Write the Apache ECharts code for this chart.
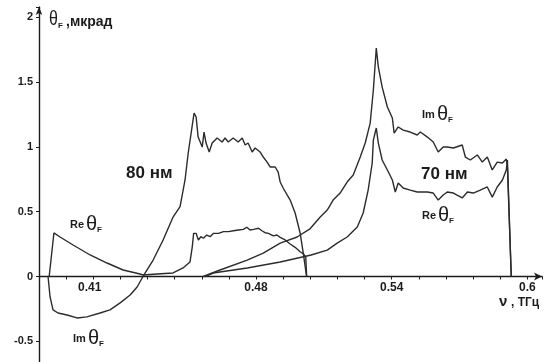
<!DOCTYPE html>
<html>
<head>
<meta charset="utf-8">
<script src="https://cdn.jsdelivr.net/npm/echarts@6/dist/echarts.min.js"></script>
<style>
  html, body { margin: 0; padding: 0; background: #fff; }
  #chart { width: 551px; height: 362px; }
</style>
</head>
<body>
<div id="chart"></div>
<script>
// Faraday rotation angle θF (мкрад) vs frequency ν (ТГц), films of 80 нм and 70 нм.
// Each series: [frequency, value] pairs.
const re80 = [
  [0.3885, 0], [0.3906, 0.336], [0.3933, 0.305], [0.3991, 0.243], [0.4066, 0.166],
  [0.4141, 0.104], [0.4212, 0.050], [0.4287, 0.019], [0.4300, 0.012], [0.4362, 0.019],
  [0.4433, 0.027], [0.4477, 0.066], [0.4508, 0.112], [0.4518, 0.228], [0.4524, 0.333],
  [0.4535, 0.333], [0.4545, 0.282], [0.4556, 0.307], [0.4567, 0.295], [0.4582, 0.320],
  [0.4597, 0.307], [0.4612, 0.333], [0.4634, 0.333], [0.4656, 0.346], [0.4678, 0.346],
  [0.4700, 0.353], [0.4722, 0.359], [0.4744, 0.364], [0.4759, 0.380], [0.4774, 0.359],
  [0.4789, 0.364], [0.4811, 0.372], [0.4826, 0.353], [0.4840, 0.338], [0.4855, 0.333],
  [0.4877, 0.313], [0.4892, 0.320], [0.4907, 0.302], [0.4929, 0.282], [0.4951, 0.251],
  [0.4973, 0.225], [0.4995, 0.191], [0.5010, 0.174], [0.5020, 0.150], [0.5024, 0]
];
const im80 = [
  [0.3880, 0], [0.3889, -0.158], [0.3902, -0.258], [0.3924, -0.282], [0.3964, -0.297],
  [0.4008, -0.320], [0.4052, -0.312], [0.4110, -0.282], [0.4154, -0.258], [0.4199, -0.204],
  [0.4243, -0.143], [0.4274, -0.081], [0.4300, 0], [0.4345, 0.127], [0.4389, 0.282],
  [0.4433, 0.459], [0.4464, 0.539], [0.4486, 0.745], [0.4500, 0.953], [0.4517, 1.154],
  [0.4526, 1.262], [0.4535, 1.231], [0.4544, 1.076], [0.4562, 0.999], [0.4570, 1.115],
  [0.4579, 1.030], [0.4593, 0.961], [0.4606, 1.030], [0.4628, 1.069], [0.4650, 1.038],
  [0.4663, 1.069], [0.4677, 1.038], [0.4699, 1.069], [0.4721, 1.038], [0.4739, 1.069],
  [0.4752, 1.015], [0.4765, 1.030], [0.4783, 0.961], [0.4796, 0.992], [0.4818, 0.961],
  [0.4832, 0.922], [0.4849, 0.883], [0.4863, 0.845], [0.4885, 0.845], [0.4898, 0.806],
  [0.4907, 0.729], [0.4920, 0.683], [0.4951, 0.590], [0.4973, 0.490], [0.4995, 0.336],
  [0.5009, 0.181], [0.5022, 0.020], [0.5024, 0]
];
const im70 = [
  [0.4566, 0], [0.4641, 0.050], [0.4761, 0.127], [0.4832, 0.181], [0.4907, 0.258],
  [0.4982, 0.305], [0.5040, 0.370], [0.5084, 0.459], [0.5115, 0.513], [0.5141, 0.590],
  [0.5172, 0.644], [0.5203, 0.729], [0.5230, 0.783], [0.5261, 0.922], [0.5283, 1.030],
  [0.5305, 1.184], [0.5319, 1.439], [0.5332, 1.763], [0.5341, 1.617], [0.5358, 1.462],
  [0.5381, 1.308], [0.5403, 1.223], [0.5411, 1.107], [0.5429, 1.154], [0.5451, 1.130],
  [0.5482, 1.115], [0.5513, 1.092], [0.5527, 1.115], [0.5558, 1.076], [0.5584, 1.038],
  [0.5606, 0.961], [0.5628, 0.999], [0.5646, 0.999], [0.5673, 0.992], [0.5712, 1.015],
  [0.5726, 0.922], [0.5748, 0.899], [0.5779, 0.938], [0.5801, 0.883], [0.5823, 0.922],
  [0.5845, 0.822], [0.5867, 0.883], [0.5890, 0.876], [0.5907, 0.907], [0.5912, 0.845],
  [0.5929, 0]
];
const re70 = [
  [0.4575, 0], [0.4610, 0.027], [0.4761, 0.066], [0.4907, 0.112], [0.5044, 0.166],
  [0.5115, 0.204], [0.5159, 0.258], [0.5203, 0.305], [0.5248, 0.382], [0.5274, 0.490],
  [0.5296, 0.667], [0.5314, 0.876], [0.5319, 1.053], [0.5332, 1.146], [0.5341, 1.030],
  [0.5358, 0.899], [0.5381, 0.822], [0.5403, 0.745], [0.5416, 0.652], [0.5429, 0.721],
  [0.5451, 0.683], [0.5482, 0.667], [0.5513, 0.652], [0.5558, 0.652], [0.5584, 0.644],
  [0.5606, 0.590], [0.5628, 0.629], [0.5646, 0.652], [0.5673, 0.644], [0.5712, 0.606],
  [0.5735, 0.652], [0.5761, 0.644], [0.5792, 0.667], [0.5823, 0.691], [0.5845, 0.613],
  [0.5867, 0.691], [0.5890, 0.745], [0.5907, 0.822], [0.5912, 0.899], [0.5929, 0]
];

// Tick labels shown on the axes (other ticks stay unlabeled)
const xTickValues = [0.408, 0.48, 0.54, 0.6];
const xTickTexts = ['0.41', '0.48', '0.54', '0.6'];
const yTickValues = [2, 1.5, 1, 0.5, 0, -0.5];
const yTickTexts = ['2', '1.5', '1', '0.5', '0', '-0.5'];

// Axis ranges
const X_MIN = 0.384, X_MAX = 0.6065, X_STEP = 0.012;
const Y_MIN = -0.66, Y_MAX = 2.08;

const FONT = '"Liberation Sans", Arial, sans-serif';
const INK = '#1c1c1c';
const LINE = '#2c2c2c';

const GRID_LEFT = 39, GRID_RIGHT = 9, GRID_TOP = 7, CHART_H = 362;
// bottom offset of the frequency axis: where θF = 0 lies in the plot
const ZERO_BOTTOM = (CHART_H - GRID_TOP) * (0 - Y_MIN) / (Y_MAX - Y_MIN);

function pickLabel(v, values, texts) {
  for (let i = 0; i < values.length; i++) {
    if (Math.abs(v - values[i]) < 1e-6) return texts[i];
  }
  return '';
}

// θF-style annotation: prefix ("Re"/"Im"), theta glyph, subscript F
function thetaLabel(x, y, prefix) {
  const els = [];
  let cx = x;
  if (prefix) {
    els.push({ type: 'text', x: cx, y: y, silent: true,
      style: { text: prefix, font: 'bold 11px ' + FONT, fill: INK, align: 'left', verticalAlign: 'middle' } });
    cx += prefix === 'Re' ? 16 : 15;
  }
  els.push({ type: 'text', x: cx, y: y - 1, silent: true,
    style: { text: 'θ', font: '20px ' + FONT, fill: INK, align: 'left', verticalAlign: 'middle' } });
  els.push({ type: 'text', x: cx + 11, y: y + 5, silent: true,
    style: { text: 'F', font: 'bold 8px ' + FONT, fill: INK, align: 'left', verticalAlign: 'middle' } });
  return els;
}

function lineSeries(data) {
  return {
    type: 'line', data: data, showSymbol: false, symbol: 'none',
    xAxisIndex: 0, yAxisIndex: 0,
    lineStyle: { color: LINE, width: 1.4 }, silent: true, animation: false
  };
}

const chart = echarts.init(document.getElementById('chart'), null, { renderer: 'canvas' });

const graphics = []
  .concat([
    { type: 'text', x: 49, y: 19, silent: true, scaleX: 0.8,
      style: { text: 'θ', font: '20px ' + FONT, fill: INK, align: 'left', verticalAlign: 'middle' } },
    { type: 'text', x: 58, y: 26, silent: true,
      style: { text: 'F', font: 'bold 8px ' + FONT, fill: INK, align: 'left', verticalAlign: 'middle' } },
    { type: 'text', x: 66, y: 22, silent: true,
      style: { text: ',мкрад', font: 'bold 14px ' + FONT, fill: INK, align: 'left', verticalAlign: 'middle' } },
    { type: 'text', x: 499, y: 302, silent: true,
      style: { text: 'ν', font: 'bold 15px ' + FONT, fill: INK, align: 'left', verticalAlign: 'middle' } },
    { type: 'text', x: 511, y: 303, silent: true,
      style: { text: ', ТГц', font: 'bold 12px ' + FONT, fill: INK, align: 'left', verticalAlign: 'middle' } },
    { type: 'text', x: 126, y: 173, silent: true,
      style: { text: '80 нм', font: 'bold 17px ' + FONT, fill: INK, align: 'left', verticalAlign: 'middle' } },
    { type: 'text', x: 421, y: 174, silent: true,
      style: { text: '70 нм', font: 'bold 17px ' + FONT, fill: INK, align: 'left', verticalAlign: 'middle' } }
  ])
  .concat(thetaLabel(70, 225, 'Re'))
  .concat(thetaLabel(73, 339, 'Im'))
  .concat(thetaLabel(422, 115, 'Im'))
  .concat(thetaLabel(422, 216, 'Re'));

chart.setOption({
  backgroundColor: '#ffffff',
  animation: false,
  grid: [
    // plotting area (full value range)
    { left: GRID_LEFT, right: GRID_RIGHT, top: GRID_TOP, bottom: 0,
      containLabel: false, outerBoundsMode: 'none' },
    // frequency axis sitting on θF = 0
    { left: GRID_LEFT, right: GRID_RIGHT, top: GRID_TOP, bottom: ZERO_BOTTOM,
      containLabel: false, outerBoundsMode: 'none' }
  ],
  xAxis: [
    { type: 'value', gridIndex: 0, min: X_MIN, max: X_MAX, interval: X_STEP, show: false },
    {
      type: 'value', gridIndex: 1, min: X_MIN, max: X_MAX, interval: X_STEP,
      position: 'bottom',
      splitLine: { show: false },
      axisLine: { onZero: false, symbol: ['none', 'arrow'], symbolSize: [6, 8],
        lineStyle: { color: INK, width: 1.4 } },
      axisTick: { show: true, length: 3, lineStyle: { color: INK, width: 1 } },
      axisLabel: {
        margin: 5, color: INK, fontFamily: FONT, fontWeight: 'bold', fontSize: 12,
        showMinLabel: true, showMaxLabel: true,
        formatter: function (v) {
          const t = pickLabel(v, xTickValues, xTickTexts);
          return t === '0.41' ? '{s|' + t + '}' : t;
        },
        rich: { s: { padding: [0, 7, 0, 0], fontFamily: FONT, fontWeight: 'bold', fontSize: 12, color: INK } }
      }
    }
  ],
  yAxis: [
    {
      type: 'value', gridIndex: 0,
      min: Y_MIN, max: Y_MAX, minInterval: 0.5, maxInterval: 0.5,
      splitLine: { show: false },
      axisLine: { show: true, onZero: false, symbol: ['none', 'arrow'], symbolSize: [5, 8],
        lineStyle: { color: INK, width: 1.4 } },
      axisTick: { show: true, length: 3, lineStyle: { color: INK, width: 1 } },
      axisLabel: {
        margin: 6, color: INK, fontFamily: FONT, fontWeight: 'bold', fontSize: 11,
        formatter: function (v) { return pickLabel(v, yTickValues, yTickTexts); }
      }
    },
    { type: 'value', gridIndex: 1, min: 0, max: 1, show: false }
  ],
  series: [lineSeries(re80), lineSeries(im80), lineSeries(re70), lineSeries(im70)],
  graphic: graphics
});
</script>
</body>
</html>
